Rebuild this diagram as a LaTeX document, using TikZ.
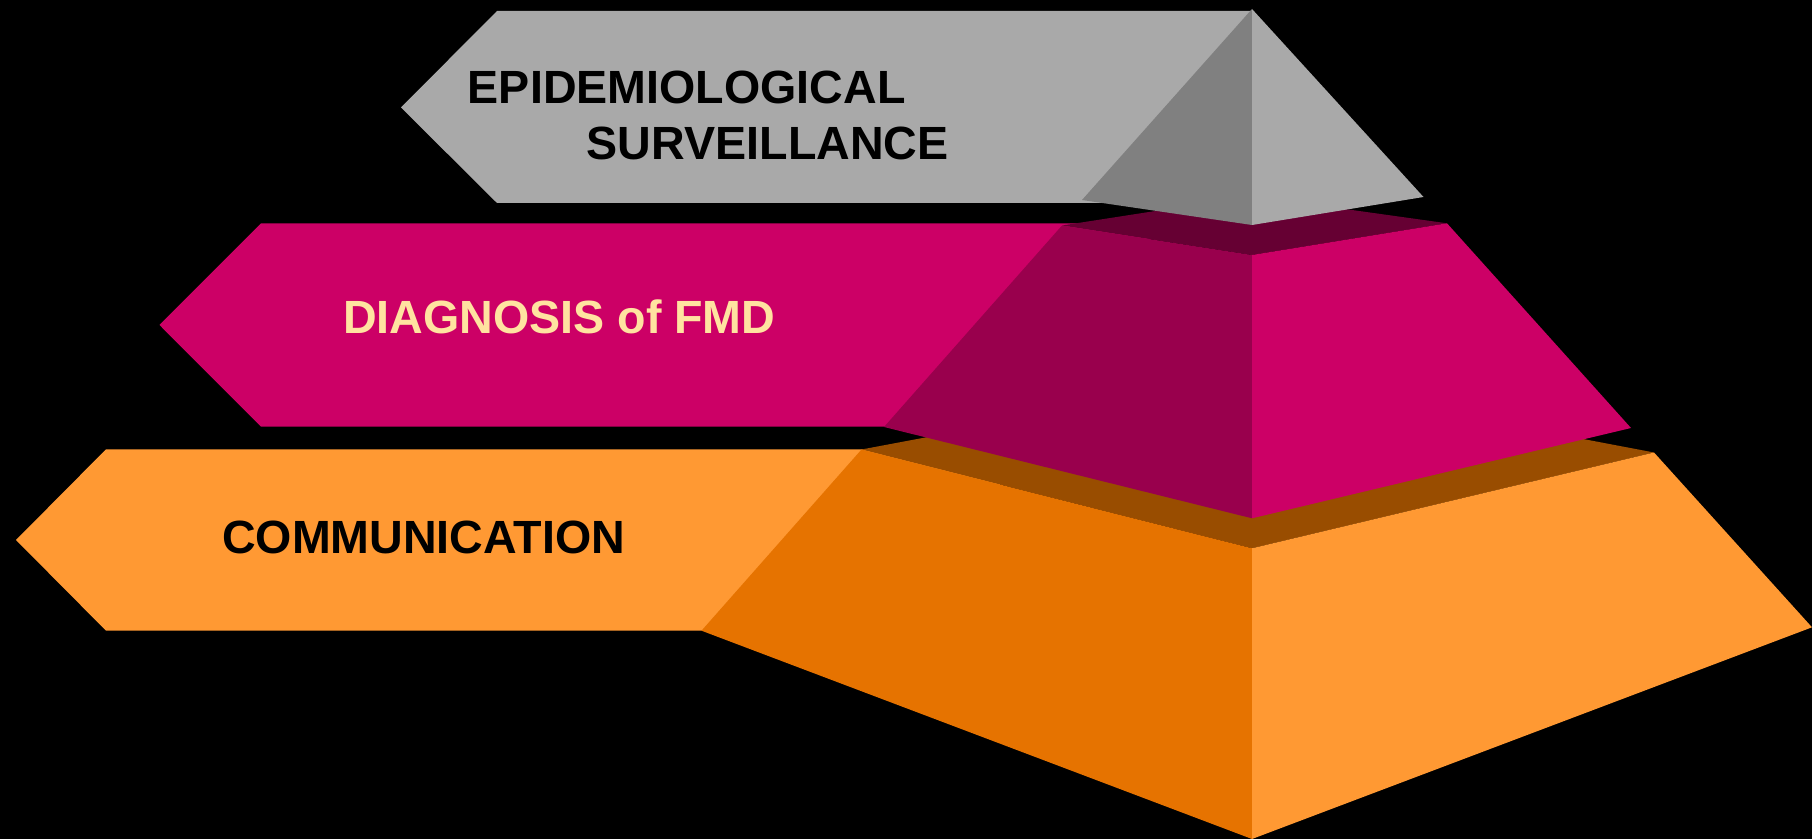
\documentclass[tikz,border=0pt]{standalone}
\usepackage{fontspec}
\setmainfont{Liberation Sans}
\definecolor{grayL}{HTML}{A9A9A9}
\definecolor{grayD}{HTML}{808080}
\definecolor{magL}{HTML}{CC0066}
\definecolor{magD}{HTML}{99004D}
\definecolor{magT}{HTML}{660033}
\definecolor{orL}{HTML}{FF9933}
\definecolor{orD}{HTML}{E67300}
\definecolor{orT}{HTML}{994D00}
\definecolor{labelyellow}{HTML}{FFE3A0}
\tikzset{
  lbl/.style={anchor=base west, inner sep=0pt, font=\bfseries\fontsize{23.3}{28}\selectfont},
}
\begin{document}
\begin{tikzpicture}[x=0.5pt,y=-0.5pt]
\useasboundingbox (0,0) rectangle (1812,839);
\fill[black] (0,0) rectangle (1812,839);

% ---------- bottom layer (orange) ----------
\fill[orL] (16,540) -- (106,449.3) -- (1000,449.3) -- (1000,630.7) -- (106,630.7) -- cycle;
\coordinate (oL) at (861.5,449.5);
\coordinate (oB) at (1252,376);
\coordinate (oR) at (1654,452.5);
\coordinate (oF) at (1252,548.3);
\coordinate (oBL) at (701.5,630.7);
\coordinate (oBF) at (1252,839);
\coordinate (oBR) at (1812,627.3);
\fill[orT] (oL) -- (oB) -- (oR) -- (oF) -- cycle;
\fill[orD] (oL) -- (oF) -- (oBF) -- (oBL) -- cycle;
\fill[orL] (oF) -- (oR) -- (oBR) -- (oBF) -- cycle;

% ---------- middle layer (magenta) ----------
\fill[magL] (159.5,325) -- (261,223.3) -- (1150,223.3) -- (1150,426.7) -- (261,426.7) -- cycle;
\coordinate (mL) at (1062,225.5);
\coordinate (mB) at (1252,196);
\coordinate (mR) at (1447,223.3);
\coordinate (mF) at (1252,255);
\coordinate (mBL) at (884,427);
\coordinate (mBF) at (1252,518.3);
\coordinate (mBR) at (1631,428);
\fill[magT] (mL) -- (mB) -- (mR) -- (mF) -- cycle;
\fill[magD] (mL) -- (mF) -- (mBF) -- (mBL) -- cycle;
\fill[magL] (mF) -- (mR) -- (mBR) -- (mBF) -- cycle;

% ---------- top layer (gray) ----------
\fill[grayL] (401,107.5) -- (497,11) -- (1252,11) -- (1252,203) -- (497,203) -- cycle;
\coordinate (gA) at (1252,9);
\coordinate (gL) at (1082,200);
\coordinate (gF) at (1252,225);
\coordinate (gR) at (1423.5,197);
\fill[grayD] (gA) -- (gL) -- (gF) -- cycle;
\fill[grayL] (gA) -- (gF) -- (gR) -- cycle;

% ---------- labels ----------
\node[lbl, text=black] (epi1) at (467.5,103.5) {EPIDEMIOLOGICAL};
\node[lbl, text=black] (epi2) at (586.5,160) {SURVEILLANCE};
\node[lbl, text=labelyellow] (diag) at (342.7,334) {DIAGNOSIS of FMD};
\node[lbl, text=black] (comm) at (221.7,554) {COMMUNICATION};
\end{tikzpicture}
\end{document}
